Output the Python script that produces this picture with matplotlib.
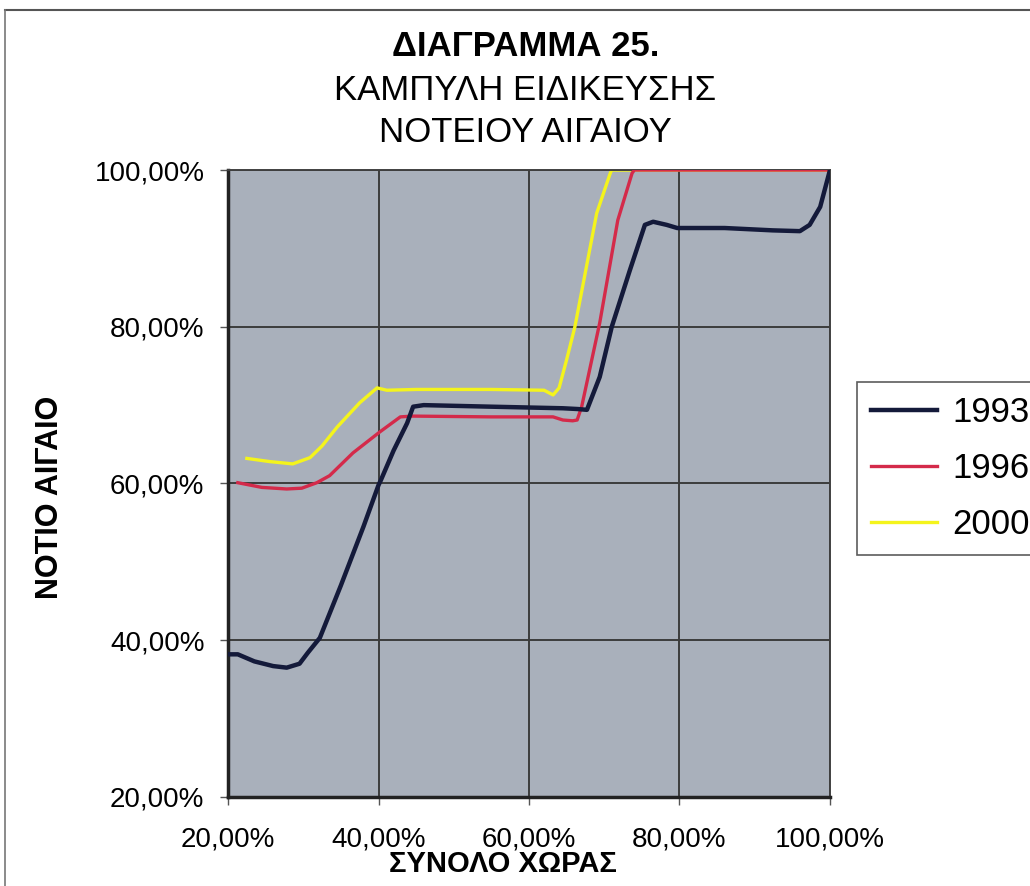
import matplotlib
matplotlib.use("Agg")
import matplotlib.pyplot as plt
from matplotlib.lines import Line2D
from matplotlib.ticker import FuncFormatter

plt.rcParams['font.family'] = ['Liberation Sans', 'DejaVu Sans']

# curve points (x: ΣΥΝΟΛΟ ΧΩΡΑΣ %, y: ΝΟΤΙΟ ΑΙΓΑΙΟ %)
x_1993 = [20.0, 21.3, 23.5, 26.0, 27.8, 29.5, 30.6, 32.2, 35.0, 38.0, 40.0, 40.3,
          42.0, 43.8, 44.6, 46.0, 55.0, 64.5, 66.5, 67.7, 69.4, 71.0, 73.4, 75.4,
          76.5, 78.3, 79.7, 86.0, 92.4, 96.0, 97.3, 98.7, 100.0]
y_1993 = [38.2, 38.2, 37.3, 36.7, 36.5, 37.0, 38.4, 40.3, 47.0, 54.5, 59.8, 60.4,
          64.2, 67.7, 69.8, 70.0, 69.8, 69.6, 69.5, 69.4, 73.6, 80.0, 87.2, 93.0,
          93.4, 93.0, 92.6, 92.6, 92.3, 92.2, 93.0, 95.3, 100.0]

x_1996 = [21.3, 24.5, 27.8, 29.8, 31.8, 33.5, 36.6, 40.2, 42.9, 44.5, 55.0, 63.2,
          64.5, 65.8, 66.4, 67.0, 69.4, 71.8, 73.7, 74.0, 100.0]
y_1996 = [60.1, 59.5, 59.3, 59.4, 60.1, 61.0, 63.9, 66.6, 68.5, 68.6, 68.5, 68.5,
          68.1, 68.0, 68.1, 69.8, 80.5, 93.6, 99.6, 100.0, 100.0]

x_2000 = [22.5, 25.5, 28.6, 30.9, 32.5, 34.5, 37.5, 39.8, 41.1, 45.0, 55.0, 62.0,
          63.2, 64.0, 65.0, 66.1, 69.0, 70.8, 71.0, 100.0]
y_2000 = [63.2, 62.8, 62.5, 63.3, 64.8, 67.2, 70.3, 72.2, 71.9, 72.0, 72.0, 71.9,
          71.3, 72.2, 75.8, 80.0, 94.5, 99.6, 100.0, 100.0]

series = ["1993", "1996", "2000"]
ticks = [20, 40, 60, 80, 100]

fig = plt.figure(figsize=(10.30, 8.86), dpi=100)
ax = fig.add_axes([0.2214, 0.1005, 0.5844, 0.7076])
ax.set_facecolor('#a9b0bb')

ax.plot(x_1993, y_1993, color='#141a3a', lw=3.2, label=series[0], zorder=4)
ax.plot(x_1996, y_1996, color='#d42a4a', lw=2.4, label=series[1], zorder=3)
ax.plot(x_2000, y_2000, color='#f4f41c', lw=2.4, label=series[2], zorder=2)

ax.set_xlim(20, 100)
ax.set_ylim(20, 100)
ax.set_xticks(ticks)
ax.set_yticks(ticks)
pct = FuncFormatter(lambda v, p: f"{v:.2f}".replace('.', ',') + "%")
ax.xaxis.set_major_formatter(pct)
ax.yaxis.set_major_formatter(pct)
ax.tick_params(axis='both', labelsize=20, length=6, width=1, color='#555555')
ax.tick_params(axis='x', pad=15)
ax.tick_params(axis='y', pad=11)
ax.grid(True, color='#3c3c3c', lw=1.4)
ax.set_axisbelow(True)
for s in ax.spines.values():
    s.set_color('#404040')
    s.set_linewidth(1.4)
ax.spines['left'].set_linewidth(2.5)
ax.spines['bottom'].set_linewidth(2.5)
ax.spines['left'].set_color('#222222')
ax.spines['bottom'].set_color('#222222')

# axis titles placed as in the reference
fig.text(503 / 1030, 1 - 864 / 886, "ΣΥΝΟΛΟ ΧΩΡΑΣ", ha='center', va='center',
         fontsize=21, fontweight='bold')
fig.text(50 / 1030, 1 - 497 / 886, "ΝΟΤΙΟ ΑΙΓΑΙΟ", ha='center', va='center',
         rotation=90, fontsize=22, fontweight='bold')

fig.text(0.51, 1 - 47 / 886, "ΔΙΑΓΡΑΜΜΑ 25.", ha='center', va='center', fontsize=25, fontweight='bold')
fig.text(0.51, 1 - 90 / 886, "ΚΑΜΠΥΛΗ ΕΙΔΙΚΕΥΣΗΣ", ha='center', va='center', fontsize=25)
fig.text(0.51, 1 - 132 / 886, "ΝΟΤΕΙΟΥ ΑΙΓΑΙΟΥ", ha='center', va='center', fontsize=25)

leg = ax.legend(loc='upper left', bbox_to_anchor=(857 / 1030, 1 - 382 / 886), bbox_transform=fig.transFigure,
                fontsize=25, frameon=True, fancybox=False, handlelength=1.9, handletextpad=0.45,
                labelspacing=0.67, borderpad=0.4, borderaxespad=0)
leg.get_frame().set_edgecolor('#333333')
leg.get_frame().set_linewidth(1.2)

# outer chart border (top and left edges visible)
fig.add_artist(Line2D([0.005, 1.0], [0.989, 0.989], transform=fig.transFigure, color='#555555', lw=1.5))
fig.add_artist(Line2D([0.005, 0.005], [0.0, 0.989], transform=fig.transFigure, color='#777777', lw=1.2))

fig.savefig("out.png", dpi=100)
